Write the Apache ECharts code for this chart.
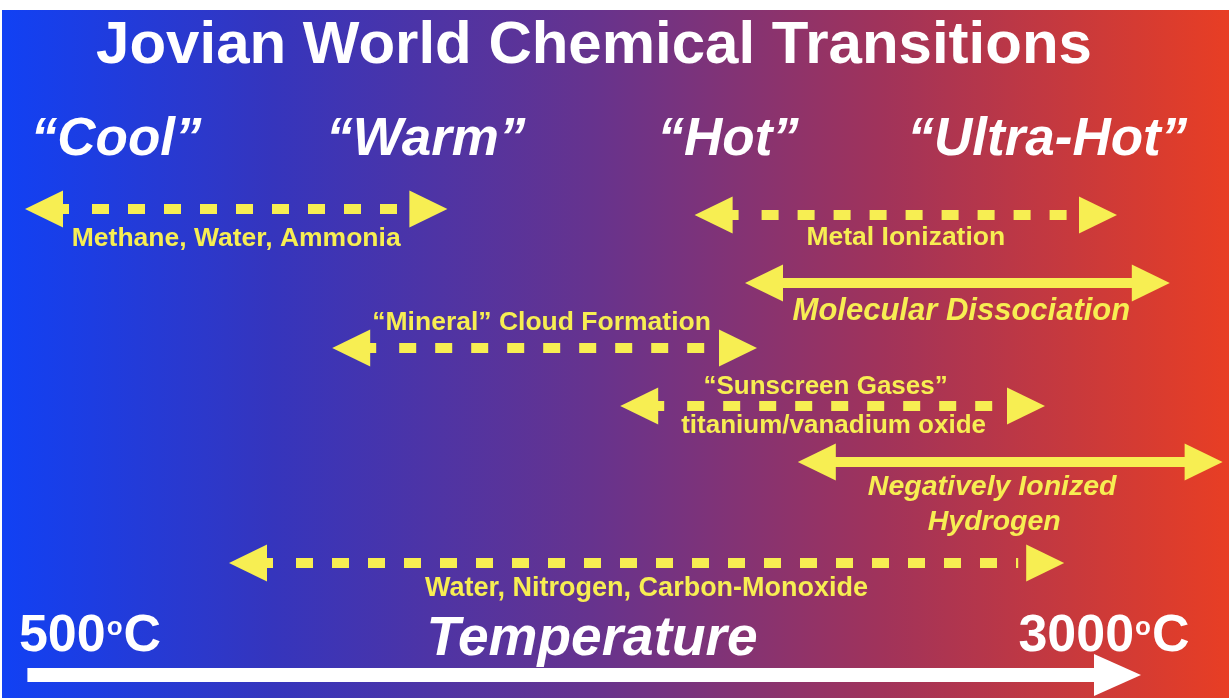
<!DOCTYPE html>
<html><head><meta charset="utf-8">
<script src="https://cdn.jsdelivr.net/npm/echarts@6/dist/echarts.min.js"></script>
<style>html,body{margin:0;padding:0;background:#fff;overflow:hidden}#c{width:1229px;height:698px}</style>
</head><body><div id="c"></div>
<script>
// ---- data ----
const chartTitle = 'Jovian World Chemical Transitions';
const regimeNames = ['“Cool”', '“Warm”', '“Hot”', '“Ultra-Hot”'];
const regimeCenterTemps = [690, 1335, 1965, 2630];
const processNames = [
  'Methane, Water, Ammonia',
  'Metal Ionization',
  'Molecular Dissociation',
  '“Mineral” Cloud Formation',
  '“Sunscreen Gases”\ntitanium/vanadium oxide',
  'Negatively Ionized\nHydrogen',
  'Water, Nitrogen, Carbon-Monoxide'
];
const processLowTemp  = [500, 1895, 2000, 1140, 1740, 2110, 925];
const processHighTemp = [1380, 2775, 2885, 2025, 2625, 2995, 2665];
const tempRange = [500, 3000];
const tempArrowRange = [505, 2825];
const tempEndLabels = ['500', '3000'];
const tempAxisName = 'Temperature';

// ---- layout / styles ----
const YEL = '#F7EE52';
const FONT = '"Liberation Sans", Arial, Helvetica, sans-serif';
const rowY = [209, 215, 283, 348, 406, 462, 563];
const rowDashed = [true, true, false, true, true, false, true];
const rowLabel = [
  [{dx: 0, dy: 30}],
  [{dx: 0, dy: 23}],
  [{dx: 4, dy: 28}],
  [{dx: -3, dy: -25}],
  [{dx: -7, dy: -19}, {dx: 1, dy: 20}],
  [{dx: -18, dy: 25}, {dx: -16, dy: 60}],
  [{dx: 0, dy: 26}]
];
const rowItalic = [false, false, true, false, false, true, false];
const rowFontSize = [26.5, 26.5, 31, 26.5, 26, 28.5, 27];

const chart = echarts.init(document.getElementById('c'), null, {renderer: 'canvas'});

const arrowData = processNames.map((n, i) => [processLowTemp[i], processHighTemp[i], rowY[i], i]);

function arrowShape(p1, p2, color, thick, headLen, headH, dashed) {
  const y = p1[1];
  const hh = headH / 2;
  const kids = [
    {type: 'polygon', shape: {points: [[p1[0], y], [p1[0] + headLen, y - hh], [p1[0] + headLen, y + hh]]}, style: {fill: color}},
    {type: 'polygon', shape: {points: [[p2[0], y], [p2[0] - headLen, y - hh], [p2[0] - headLen, y + hh]]}, style: {fill: color}}
  ];
  if (dashed) {
    kids.push({type: 'rect', shape: {x: p1[0] + headLen - 1, y: y - thick / 2, width: 7, height: thick}, style: {fill: color}});
    kids.push({type: 'line', shape: {x1: p1[0] + headLen + 29, y1: y, x2: p2[0] - headLen - 8, y2: y},
      style: {stroke: color, lineWidth: thick, lineDash: [17, 19], lineCap: 'butt'}});
  } else {
    kids.push({type: 'line', shape: {x1: p1[0] + headLen - 1, y1: y, x2: p2[0] - headLen + 1, y2: y},
      style: {stroke: color, lineWidth: thick, lineCap: 'butt'}});
  }
  return kids;
}

const bigRich = {
  n: {font: 'bold 52px ' + FONT, fill: '#fff', color: '#fff'},
  s: {font: 'bold 26px ' + FONT, fill: '#fff', color: '#fff', padding: [0, 1, 18, 1]}
};

const option = {
  backgroundColor: '#ffffff',
  animation: false,
  grid: {left: 25, right: 4, top: 0, bottom: 0, containLabel: false},
  xAxis: {type: 'value', min: tempRange[0], max: tempRange[1], show: false},
  yAxis: {type: 'value', min: 0, max: 698, inverse: true, show: false},
  graphic: [
    {type: 'rect', z: -10, silent: true, shape: {x: 2, y: 10, width: 1227, height: 688},
      style: {fill: new echarts.graphic.LinearGradient(0, 0, 1, 0, [
        {offset: 0, color: '#1141f4'},
        {offset: 0.22, color: '#3535bd'},
        {offset: 0.48, color: '#66338e'},
        {offset: 0.72, color: '#a1335a'},
        {offset: 1, color: '#e83e24'}
      ])}},
    {type: 'text', x: 594, y: 46, style: {text: chartTitle, fill: '#ffffff', font: 'bold 60px ' + FONT, align: 'center', verticalAlign: 'middle'}},
    {type: 'text', x: 90, y: 637, style: {
      text: '{n|' + tempEndLabels[0] + '}{s|o}{n|C}', fill: '#fff', align: 'center', verticalAlign: 'middle', rich: bigRich}},
    {type: 'text', x: 1104, y: 637, style: {
      text: '{n|' + tempEndLabels[1] + '}{s|o}{n|C}', fill: '#fff', align: 'center', verticalAlign: 'middle', rich: bigRich}},
    {type: 'text', x: 592, y: 640, style: {text: tempAxisName, fill: '#ffffff', font: 'italic bold 55px ' + FONT, align: 'center', verticalAlign: 'middle'}}
  ],
  series: [
    {
      type: 'custom', silent: true,
      data: regimeNames.map((n, i) => [regimeCenterTemps[i], 140, i]),
      renderItem(params, api) {
        const p = api.coord([api.value(0), api.value(1)]);
        return {type: 'text', x: p[0], y: p[1], style: {text: regimeNames[api.value(2)], fill: '#fff', font: 'italic bold 53px ' + FONT, align: 'center', verticalAlign: 'middle'}};
      }
    },
    {
      type: 'custom', silent: true,
      data: arrowData,
      renderItem(params, api) {
        const i = api.value(3);
        const p1 = api.coord([api.value(0), api.value(2)]);
        const p2 = api.coord([api.value(1), api.value(2)]);
        const kids = arrowShape(p1, p2, YEL, 10, 38, 37, rowDashed[i]);
        const lines = processNames[i].split('\n');
        const cx = (p1[0] + p2[0]) / 2;
        lines.forEach((t, k) => {
          const L = rowLabel[i][k];
          kids.push({type: 'text', x: cx + L.dx, y: p1[1] + L.dy, style: {
            text: t, fill: YEL, font: (rowItalic[i] ? 'italic ' : '') + 'bold ' + rowFontSize[i] + 'px ' + FONT,
            align: 'center', verticalAlign: 'middle'}});
        });
        return {type: 'group', children: kids};
      }
    },
    {
      type: 'custom', silent: true,
      data: [[tempArrowRange[0], tempArrowRange[1], 675]],
      renderItem(params, api) {
        const p1 = api.coord([api.value(0), api.value(2)]);
        const p2 = api.coord([api.value(1), api.value(2)]);
        const y = p1[1];
        return {type: 'group', children: [
          {type: 'rect', shape: {x: p1[0], y: y - 7, width: p2[0] - p1[0] - 46, height: 14}, style: {fill: '#fff'}},
          {type: 'polygon', shape: {points: [[p2[0], y], [p2[0] - 47, y - 21], [p2[0] - 47, y + 21]]}, style: {fill: '#fff'}}
        ]};
      }
    }
  ]
};
chart.setOption(option);
</script>
</body></html>
